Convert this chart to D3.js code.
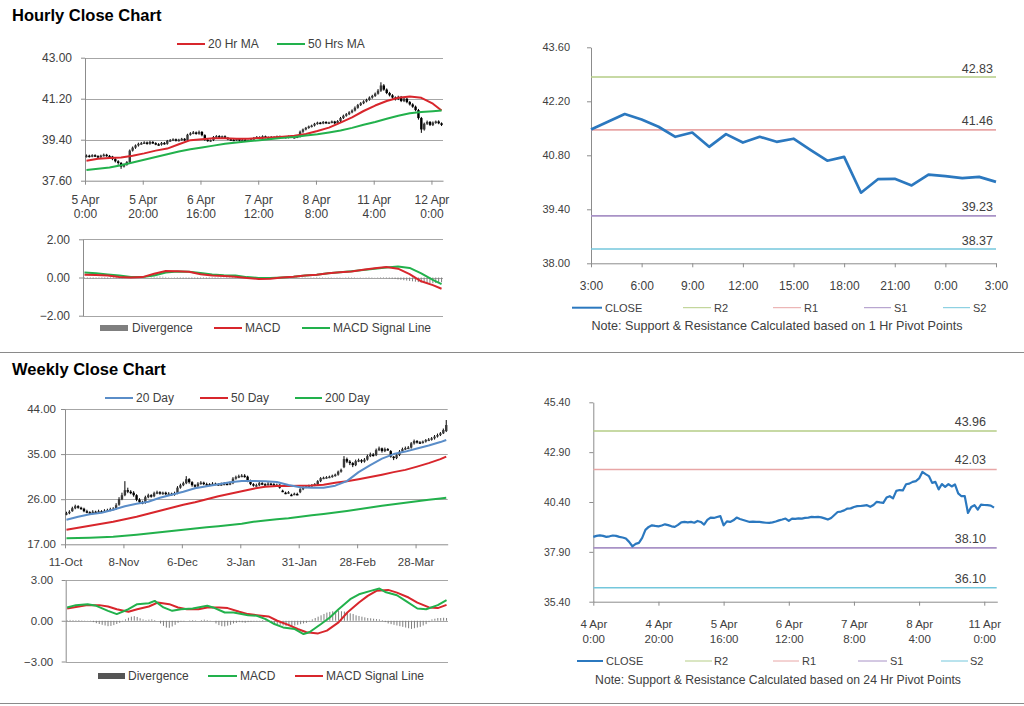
<!DOCTYPE html>
<html><head><meta charset="utf-8">
<script src="https://cdn.jsdelivr.net/npm/d3@7"></script>
<style>
body{margin:0;background:#fff;}
svg{display:block;}
</style></head><body>
<svg id="c" width="1024" height="706"></svg>
<script>
// ---------------- DATA ----------------
// Hourly close chart (top-left): hourly candles
const hTickIdx = [0,20,40,60,80,100,120];
const hTickLabels = ['5 Apr\n0:00','5 Apr\n20:00','6 Apr\n16:00','7 Apr\n12:00','8 Apr\n8:00','11 Apr\n4:00','12 Apr\n0:00'];
const hOpen = [38.66,38.70,38.66,38.72,38.68,38.64,38.70,38.74,38.69, 38.66,38.55,38.45,38.38,38.22,38.30, 38.42, 38.92,39.05,39.15,39.22, 39.25,39.28,39.22,39.30,39.25,39.20,39.18, 39.26,39.22,39.35,39.38,39.42,39.36,39.40, 39.44, 39.38,39.62,39.68,39.72,39.66,39.74, 39.60,39.40,39.35, 39.38,39.52,39.56,39.50,39.55, 39.48,39.42,39.40,39.38,39.43,39.36,39.40,39.34,39.38, 39.42,39.48,39.52,39.46,39.55,39.50, 39.48,39.52,39.48,39.55,39.50,39.53,39.49,39.55,39.52,39.50, 39.54,39.75,39.85,39.92,39.98, 40.02,40.10,40.15,40.12,40.18,40.14,40.16,40.20,40.12, 40.22,40.35,40.45,40.52,40.60, 40.68,40.80,40.92,41.00,41.08, 41.15,41.25,41.32,41.42, 41.55, 41.78,41.60,41.45, 41.35,41.25,41.18,41.28,41.10, 41.20,41.05,40.95, 40.85, 40.70,40.35, 39.85,40.10,40.18,40.05,40.15,40.20,40.12];
const hClose = [38.70,38.66,38.72,38.68,38.64,38.70,38.74,38.69,38.66, 38.55,38.45,38.38,38.22,38.30,38.42, 38.92, 39.05,39.15,39.22,39.25, 39.28,39.22,39.30,39.25,39.20,39.18,39.26, 39.22,39.35,39.38,39.42,39.36,39.40,39.44, 39.38, 39.62,39.68,39.72,39.66,39.74,39.60, 39.40,39.35,39.38, 39.52,39.56,39.50,39.55,39.48, 39.42,39.40,39.38,39.43,39.36,39.40,39.34,39.38,39.42, 39.48,39.52,39.46,39.55,39.50,39.48, 39.52,39.48,39.55,39.50,39.53,39.49,39.55,39.52,39.50,39.54, 39.75,39.85,39.92,39.98,40.02, 40.10,40.15,40.12,40.18,40.14,40.16,40.20,40.12,40.22, 40.35,40.45,40.52,40.60,40.68, 40.80,40.92,41.00,41.08,41.15, 41.25,41.32,41.42,41.55, 41.78, 41.60,41.45,41.35, 41.25,41.18,41.28,41.10,41.20, 41.05,40.95,40.85, 40.70, 40.35,39.85, 40.10,40.18,40.05,40.15,40.20,40.12,40.05];
const hHigh = [38.75,38.74,38.76,38.76,38.72,38.74,38.79,38.78,38.73, 38.69,38.60,38.50,38.42,38.35,38.46, 38.97, 39.10,39.19,39.27,39.30, 39.33,39.32,39.35,39.34,39.29,39.25,39.30, 39.30,39.39,39.43,39.46,39.45,39.44,39.48, 39.47, 39.66,39.73,39.78,39.76,39.80,39.78, 39.64,39.45,39.41, 39.56,39.60,39.60,39.58,39.59, 39.52,39.46,39.44,39.47,39.46,39.43,39.44,39.40,39.45, 39.52,39.56,39.55,39.59,39.58,39.54, 39.56,39.55,39.58,39.58,39.56,39.56,39.58,39.58,39.55,39.57, 39.80,39.89,39.96,40.02,40.06, 40.14,40.19,40.18,40.22,40.21,40.19,40.24,40.23,40.26, 40.40,40.50,40.57,40.65,40.73, 40.86,40.97,41.05,41.13,41.20, 41.30,41.37,41.47,41.62, 41.92, 41.84,41.65,41.50, 41.40,41.30,41.33,41.32,41.25, 41.25,41.10,41.00, 40.90, 40.75,40.40, 40.15,40.24,40.22,40.20,40.24,40.25,40.16];
const hLow = [38.62,38.62,38.63,38.64,38.60,38.60,38.66,38.65,38.62, 38.50,38.40,38.30,38.12,38.18,38.26, 38.38, 38.88,39.00,39.10,39.18, 39.21,39.18,39.18,39.21,39.16,39.14,39.14, 39.18,39.18,39.31,39.34,39.32,39.32,39.36, 39.34, 39.34,39.58,39.64,39.62,39.62,39.55, 39.35,39.31,39.31, 39.34,39.48,39.46,39.46,39.44, 39.38,39.36,39.34,39.35,39.32,39.33,39.30,39.30,39.34, 39.38,39.44,39.42,39.42,39.46,39.44, 39.44,39.45,39.45,39.46,39.47,39.46,39.46,39.48,39.46,39.47, 39.50,39.70,39.81,39.88,39.94, 39.98,40.06,40.08,40.08,40.10,40.10,40.12,40.08,40.08, 40.18,40.31,40.41,40.48,40.56, 40.64,40.76,40.88,40.96,41.04, 41.11,41.20,41.28,41.38, 41.50, 41.55,41.40,41.30, 41.20,41.12,41.14,41.05,41.05, 41.00,40.90,40.80, 40.65, 40.28,39.70, 39.80,40.05,40.00,40.00,40.10,40.08,40.00];
const hMaIdx = [0,4,8,12,16,20,24,28,32,36,40,44,48,52,56,60,64,68,72,76,80,84,88,92,96,100,104,108,112,116,120,123];
const hMa20 = [38.48,38.56,38.60,38.62,38.70,38.80,38.92,39.01,39.20,39.38,39.42,39.46,39.46,39.44,39.44,39.48,39.50,39.53,39.57,39.65,39.78,39.93,40.15,40.38,40.66,40.90,41.10,41.24,41.30,41.24,40.98,40.68];
const hMa50 = [38.07,38.12,38.18,38.28,38.40,38.52,38.64,38.76,38.88,38.98,39.06,39.14,39.22,39.28,39.33,39.38,39.43,39.48,39.52,39.58,39.64,39.72,39.80,39.92,40.06,40.18,40.32,40.45,40.56,40.62,40.65,40.68];
// Hourly MACD panel
const hMacd = [0.14,0.13,0.10,0.03,0.00,0.02,0.20,0.34,0.33,0.30,0.17,0.11,0.08,0.04,-0.02,-0.08,-0.06,0.00,0.04,0.10,0.14,0.22,0.28,0.32,0.40,0.48,0.55,0.46,0.18,-0.20,-0.40,-0.59];
const hSignal = [0.26,0.22,0.16,0.10,0.03,0.02,0.10,0.26,0.31,0.30,0.23,0.16,0.12,0.10,0.02,-0.02,-0.03,0.00,0.04,0.10,0.14,0.22,0.28,0.33,0.39,0.46,0.52,0.57,0.50,0.22,-0.12,-0.35];
const hDiverg = [-0.03,-0.04,-0.04,-0.05,-0.04,-0.03,-0.04,-0.05,-0.05,-0.04,-0.03,-0.04,-0.05,-0.04,-0.03,-0.02,-0.02,-0.01, 0.00,0.01,0.00,0.01,0.00, 0.02,0.03,0.04,0.05,0.04,0.03,0.02,0.01, -0.02,-0.03,-0.04,-0.05,-0.05,-0.06,-0.05,-0.05,-0.06,-0.05,-0.04,-0.05,-0.04,-0.03,-0.04,-0.03,-0.03,-0.02,-0.03,-0.02,-0.02,-0.03,-0.02,-0.02,-0.01,-0.02,-0.01,-0.01, 0.00,0.01,0.00,0.01,0.02,0.01,0.02,0.02,0.01,0.02,0.01,0.01,0.02,0.01, 0.02,0.01,0.02,0.02,0.01,0.02,0.02,0.03,0.02,0.02,0.01,0.02,0.02,0.01,0.02,0.02,0.01,0.02,0.03,0.02,0.02,0.01,0.02,0.01,0.02,0.03,0.02,0.01, -0.02,-0.03,-0.03,-0.04,-0.05,-0.06, -0.08,-0.10,-0.12,-0.14,-0.16,-0.18,-0.20,-0.22,-0.24,-0.26,-0.28,-0.29,-0.30,-0.30,-0.29,-0.27,-0.25];
// 1 Hr pivot chart (top-right)
const pHourLabels = ['3:00','6:00','9:00','12:00','15:00','18:00','21:00','0:00','3:00'];
const pHourClose = [41.47,41.67,41.87,41.73,41.54,41.28,41.39,41.02,41.35,41.13,41.28,41.15,41.23,40.94,40.66,40.76,39.83,40.18,40.19,40.02,40.30,40.26,40.21,40.24,40.11];
const pHourLevels = [42.83,41.46,39.23,38.37]; // R2,R1,S1,S2
// Weekly close chart (bottom-left): daily candles
const dTickIdx = [0,20,40,60,80,100,120];
const dTickLabels = ['11-Oct','8-Nov','6-Dec','3-Jan','31-Jan','28-Feb','28-Mar'];
const dOpen = [23.0,23.2,23.6,24.2,24.6,24.3,24.1,23.6,23.4,23.2,23.5,23.4,23.6,23.5,23.7,23.8,24.0,24.1,24.9,26.0,26.8,27.8,27.5,27.3,26.8,25.9,25.4,25.3,26.4,26.8,26.6,27.2,27.4,27.1,27.3,27.0,27.1,26.9,27.2,28.3,28.8,29.2,30.0,29.4,28.8,28.6,29.1,29.3,29.0,29.0,28.9,29.1,29.0,28.9,29.0,29.1,29.0,29.2,30.1,30.4,30.6,30.7,30.5,29.6,29.0,28.7,28.8,29.2,29.0,28.9,29.1,29.0,28.8,28.9,27.7,27.3,27.3,26.9,27.0,27.05,27.4,28.0,28.4,28.6,28.7,28.85,29.0,29.6,30.2,30.3,30.4,30.5,30.7,30.9,31.5,32.4,34.0,33.5,33.2,32.8,33.6,33.8,33.5,33.9,34.6,34.9,34.8,35.8,36.15,35.6,36.0,35.6,34.5,34.2,34.8,35.5,36.0,36.2,36.3,37.15,37.6,37.35,37.3,37.5,37.8,37.9,38.15,38.5,38.8,39.15,39.6];
const dClose = [23.2,23.5,24.2,24.6,24.3,24.1,23.6,23.4,23.2,23.5,23.4,23.6,23.5,23.7,23.8,24.0,24.1,24.8,26.0,26.8,27.8,27.5,27.3,26.8,25.9,25.4,25.3,26.4,26.8,26.6,27.2,27.4,27.1,27.3,27.0,27.1,26.9,27.2,28.3,28.8,29.2,30.0,29.4,28.8,28.6,29.1,29.3,29.0,29.0,28.9,29.1,29.0,28.9,29.0,29.1,29.0,29.2,30.1,30.4,30.6,30.7,30.5,29.6,29.0,28.7,28.8,29.2,29.0,28.9,29.1,29.0,28.8,28.9,28.3,27.65,27.2,27.4,26.85,27.1,27.0,28.0,28.4,28.6,28.7,28.85,29.0,29.6,30.2,30.3,30.4,30.5,30.7,30.9,31.5,31.85,34.0,33.5,33.2,32.8,33.6,33.8,33.5,33.9,34.6,34.9,34.8,35.8,36.15,35.6,36.0,35.9,34.5,34.2,34.8,35.5,36.0,36.2,36.3,37.15,37.6,37.35,37.3,37.5,37.8,37.9,38.15,38.5,38.8,39.15,39.8,40.8];
const dHigh = [23.5,23.8,24.5,24.9,24.8,24.5,24.3,23.9,23.6,23.8,23.7,23.9,23.8,24.0,24.1,24.3,24.4,25.2,26.4,27.3,29.6,28.3,27.8,27.6,27.0,26.2,25.7,26.7,27.1,27.0,27.5,27.7,27.6,27.5,27.5,27.4,27.3,27.5,28.6,29.1,29.5,30.6,30.2,29.6,29.0,29.4,29.6,29.5,29.3,29.2,29.4,29.3,29.2,29.3,29.4,29.3,29.5,30.4,30.7,30.9,31.0,31.0,30.7,29.9,29.2,29.1,29.5,29.4,29.2,29.4,29.3,29.2,29.1,29.0,27.9,27.5,27.6,27.1,27.3,27.3,28.2,28.6,28.8,28.9,29.0,29.2,29.8,30.4,30.5,30.6,30.7,30.9,31.1,31.7,32.1,34.6,34.3,33.8,33.4,33.9,34.1,34.0,34.2,34.9,35.3,35.2,36.1,36.5,36.3,36.3,36.2,35.8,34.6,35.0,35.8,36.3,36.5,36.6,37.4,37.9,37.8,37.6,37.7,38.0,38.2,38.4,38.8,39.1,39.4,40.1,41.8];
const dLow = [22.8,23.0,23.5,24.0,24.1,23.9,23.4,23.2,23.0,23.0,23.2,23.2,23.3,23.3,23.5,23.6,23.8,23.9,24.7,25.8,26.6,27.2,27.0,26.5,25.6,25.1,25.0,25.1,26.2,26.3,26.4,27.0,26.9,26.9,26.8,26.8,26.7,26.7,27.0,28.1,28.6,29.0,29.1,28.5,28.3,28.4,28.9,28.8,28.8,28.7,28.7,28.8,28.7,28.7,28.8,28.8,28.8,29.0,29.9,30.2,30.4,30.3,29.4,28.8,28.5,28.5,28.6,28.8,28.7,28.7,28.8,28.6,28.6,28.1,27.4,27.0,27.1,26.6,26.8,26.8,27.2,27.8,28.2,28.4,28.5,28.6,28.8,29.4,30.0,30.1,30.2,30.3,30.5,30.7,31.3,32.2,33.2,32.8,32.4,32.6,33.4,33.2,33.3,33.7,34.4,34.5,34.6,35.6,35.3,35.4,35.7,34.3,33.8,34.0,34.6,35.3,35.8,36.0,36.1,36.9,37.1,37.1,37.1,37.3,37.6,37.7,37.9,38.3,38.6,39.0,39.4];
const dMaIdx = [0,4,8,12,16,20,24,28,32,36,40,44,48,52,56,60,64,68,72,76,80,84,88,92,96,100,104,108,112,116,120,124,128,130];
const dMa20 = [21.9,22.5,23.0,23.3,23.9,24.6,25.1,25.5,26.3,26.9,27.5,28.2,28.6,29.0,29.4,29.65,29.65,29.6,29.45,28.85,28.4,28.3,28.3,28.7,29.6,31.4,32.8,34.1,35.0,35.5,36.1,36.7,37.4,37.8];
const dMa50 = [19.9,20.3,20.7,21.1,21.5,22.0,22.5,23.1,23.7,24.3,24.9,25.4,26.0,26.6,27.1,27.6,28.1,28.5,28.65,28.65,28.7,28.75,28.9,29.3,29.6,30.0,30.45,30.9,31.4,31.85,32.5,33.2,34.0,34.5];
const dMa200 = [18.2,18.25,18.3,18.4,18.5,18.7,18.9,19.15,19.4,19.65,19.9,20.15,20.4,20.6,20.85,21.1,21.5,21.75,22.0,22.2,22.5,22.8,23.05,23.35,23.65,24.0,24.35,24.7,25.0,25.3,25.6,25.9,26.15,26.3];
// Daily MACD panel
const dMacdIdx = [0,3,7,10,14,17,21,24,28,30,33,36,39,43,48,50,54,57,62,65,68,71,74,78,81,83,87,90,93,97,100,104,107,109,113,116,120,123,127,130];
const dMacd = [0.98,1.15,1.22,1.10,0.73,0.49,0.85,1.22,1.29,1.46,0.98,0.73,0.85,0.90,1.10,0.98,0.61,0.61,0.41,0.37,0.12,-0.24,-0.49,-0.61,-0.98,-0.85,-0.24,0.24,0.85,1.59,1.95,2.20,2.37,2.12,1.88,1.46,0.90,0.85,1.15,1.51];
const dSignalIdx = [0,4,7,11,14,17,21,24,28,31,35,38,41,45,48,52,55,59,62,65,69,72,76,79,82,86,89,93,96,100,103,106,110,113,117,120,124,127,130];
const dSignal = [0.90,1.05,1.15,1.15,1.05,0.85,0.66,0.85,1.05,1.34,1.22,0.98,0.85,0.85,0.98,0.98,0.93,0.66,0.49,0.41,0.32,0.00,-0.32,-0.61,-0.85,-0.93,-0.73,-0.12,0.61,1.34,1.83,2.20,2.27,2.07,1.71,1.34,0.98,0.93,1.17];
const dDiverg = [0.05,0.06,0.05,0.04,0.05,0.03,0.02,0.01,-0.02, -0.10,-0.18,-0.24,-0.30,-0.35,-0.40,-0.38,-0.32,-0.24,-0.15,-0.05, 0.10,0.22,0.30,0.34,0.28,0.18, 0.10,0.05,0.08,0.10,0.05,0.00, -0.20,-0.38,-0.50,-0.52,-0.42,-0.30,-0.15, -0.05,-0.04,0.00,0.03,0.05,0.03,0.00,0.05,0.08,0.05,0.02,0.00, -0.20,-0.32,-0.40,-0.42,-0.36,-0.30,-0.20, -0.15,-0.10,-0.12,-0.15,-0.10,-0.08,-0.05,-0.05,-0.03, 0.05,0.03,-0.05,-0.10, -0.20,-0.25,-0.30,-0.35,-0.38,-0.40,-0.38,-0.35,-0.30,-0.25,-0.20,-0.15,-0.05, 0.10,0.20,0.30, 0.40,0.50,0.60,0.65,0.70,0.72,0.75,0.70,0.68,0.60,0.55,0.50,0.40,0.35,0.30, 0.25,0.20,0.18,0.15,0.12,0.10,0.05, -0.10,-0.20,-0.25,-0.30,-0.35,-0.40,-0.45,-0.50,-0.55,-0.60,-0.55,-0.50,-0.45,-0.35,-0.25,-0.10, 0.10,0.15,0.20,0.20,0.22,0.20];
// 24 Hr pivot chart (bottom-right)
const pDayTickIdx = [0,20,40,60,80,100,120];
const pDayLabels = ['4 Apr\n0:00','4 Apr\n20:00','5 Apr\n16:00','6 Apr\n12:00','7 Apr\n8:00','8 Apr\n4:00','11 Apr\n0:00'];
const pDayClose = [38.65,38.70,38.73,38.70,38.65,38.68,38.72,38.70,38.65,38.62,38.57,38.40,38.18,38.30,38.35,38.60,39.00,39.15,39.23,39.20,39.18,39.22,39.28,39.24,39.18,39.15,39.25,39.38,39.40,39.38,39.40,39.36,39.45,39.40,39.27,39.50,39.62,39.60,39.65,39.69,39.23,39.43,39.40,39.48,39.62,39.55,39.50,39.45,39.40,39.42,39.40,39.40,39.38,39.36,39.35,39.38,39.42,39.48,39.52,39.57,39.45,39.57,39.55,39.58,39.57,39.60,39.62,39.65,39.64,39.65,39.63,39.58,39.52,39.60,39.75,39.90,39.92,39.98,40.07,40.08,40.15,40.19,40.20,40.22,40.24,40.16,40.25,40.41,40.38,40.36,40.62,40.69,40.58,40.96,41.00,40.98,41.29,41.32,41.41,41.45,41.58,41.91,41.80,41.70,41.36,41.41,41.03,41.30,41.16,41.30,41.18,41.28,40.83,40.69,40.70,39.85,40.15,40.24,40.02,40.27,40.25,40.24,40.22,40.12];
const pDayLevels = [43.96,42.03,38.10,36.10]; // R2,R1,S1,S2

// ---------------- DRAWING ----------------
const FONT = '"Liberation Sans", Arial, Helvetica, sans-serif';
const C = {axis:'#8c8c8c', grid:'#a6a6a6', text:'#404040', red:'#d8262c', green:'#22b14c',
  blue:'#5a8dc8', close:'#2b78bf', lv:['#b5cd86','#e8a6a6','#a892c6','#74c7dc'], div:'#7f7f7f'};
const svg = d3.select('#c');

function txt(x,y,s,opt={}) {
  return svg.append('text').attr('x',x).attr('y',y).text(s)
    .attr('font-family',FONT).attr('font-size',opt.fs||11).attr('fill',opt.fill||C.text)
    .attr('text-anchor',opt.anchor||'start').attr('font-weight',opt.fw||'normal');
}
function hline(x1,x2,y,color,w) {
  svg.append('line').attr('x1',x1).attr('x2',x2).attr('y1',y).attr('y2',y)
    .attr('stroke',color).attr('stroke-width',w||1);
}
function leftAxis(x,y,ticks,fs,pad) {
  const g = svg.append('g').attr('transform',`translate(${x},0)`)
    .call(d3.axisLeft(y).tickValues(ticks).tickFormat(d3.format('.2f')).tickSize(4).tickSizeOuter(0).tickPadding(pad));
  g.attr('font-family',FONT).attr('font-size',fs);
  g.select('.domain').attr('stroke',C.axis);
  g.selectAll('.tick line').attr('stroke',C.axis);
  g.selectAll('.tick text').attr('fill',C.text);
}
function bottomAxis(x,y0,ticks,labels,fs,dy,lh) {
  const g = svg.append('g').attr('transform',`translate(0,${y0})`)
    .call(d3.axisBottom(x).tickValues(ticks).tickFormat(()=>'').tickSize(4).tickSizeOuter(0));
  g.select('.domain').attr('stroke',C.axis);
  g.selectAll('.tick line').attr('stroke',C.axis);
  g.selectAll('.tick text').remove();
  g.selectAll('.tick').each(function(d,i){
    const t = d3.select(this).append('text').attr('fill',C.text).attr('font-family',FONT)
      .attr('font-size',fs).attr('text-anchor','middle');
    labels[i].split('\n').forEach((s,j)=>t.append('tspan').attr('x',0).attr('y',dy+j*lh).text(s));
  });
}
function legendLine(x1,x2,y,color,w,label,fs,tx) {
  hline(x1,x2,y,color,w);
  txt(tx||x2+3,y+4,label,{fs:fs});
}
function candles(x,y,o,h,l,c,bw) {
  const g = svg.append('g');
  c.forEach((cv,i)=>{
    const cx = x(i+0.5);
    g.append('line').attr('x1',cx).attr('x2',cx).attr('y1',y(h[i])).attr('y2',y(l[i]))
      .attr('stroke','#000').attr('stroke-width',1);
    const top = y(Math.max(o[i],cv)), bot = y(Math.min(o[i],cv));
    g.append('rect').attr('x',cx-bw/2).attr('width',bw).attr('y',top).attr('height',Math.max(1.5,bot-top))
      .attr('fill',cv > o[i] ? '#3a3a3a' : '#000');
  });
}
function path(idx,vals,x,y,color,w) {
  const line = d3.line().x(d=>x(d[0])).y(d=>y(d[1]));
  svg.append('path').datum(idx.map((k,i)=>[k,vals[i]])).attr('d',line)
    .attr('fill','none').attr('stroke',color).attr('stroke-width',w).attr('stroke-linejoin','round');
}

// Titles and separators
txt(12,21,'Hourly Close Chart',{fs:16.5,fw:'bold',fill:'#000'});
txt(12,375,'Weekly Close Chart',{fs:16.5,fw:'bold',fill:'#000'});
hline(0,1024,352.5,'#8a8a8a',1);
hline(0,1024,703.5,'#8a8a8a',1);

// ---- Panel 1: hourly candles ----
{
  const x = d3.scaleLinear().domain([0,124]).range([85,443]);
  const y = d3.scaleLinear().domain([37.6,43]).range([180.7,57.7]);
  const ticks = [43.0,41.2,39.4,37.6];
  ticks.slice(0,3).forEach(t=>hline(85,443,Math.round(y(t))+0.5,C.grid,1));
  leftAxis(85,y,ticks,12,9);
  bottomAxis(x,180.7,hTickIdx,hTickLabels,12,23.5,14);
  candles(x,y,hOpen,hHigh,hLow,hClose,2.4);
  path(hMaIdx.map(k=>k+0.5),hMa20,x,y,C.red,2);
  path(hMaIdx.map(k=>k+0.5),hMa50,x,y,C.green,2);
  legendLine(177,205,44,C.red,2,'20 Hr MA',12);
  legendLine(277,305,44,C.green,2,'50 Hrs MA',12);
}
// ---- Panel 2: hourly MACD ----
{
  const x = d3.scaleLinear().domain([0,124]).range([83,443]);
  const y = d3.scaleLinear().domain([-2,2]).range([315.7,239.3]);
  [2,0,-2].forEach(t=>hline(83,443,Math.round(y(t))+0.5,C.grid,1));
  leftAxis(83,y,[2,0,-2],12,9);
  const g = svg.append('g');
  hDiverg.forEach((d,i)=>g.append('line').attr('x1',x(i+0.5)).attr('x2',x(i+0.5))
    .attr('y1',y(0)).attr('y2',y(d)).attr('stroke',C.div).attr('stroke-width',1));
  path(hMaIdx.map(k=>k+0.5),hSignal,x,y,C.green,2);
  path(hMaIdx.map(k=>k+0.5),hMacd,x,y,C.red,2);
  svg.append('rect').attr('x',100).attr('y',325).attr('width',28).attr('height',6).attr('fill',C.div);
  txt(132,332,'Divergence',{fs:12});
  legendLine(214,242,328,C.red,2,'MACD',12,245);
  legendLine(302,330,328,C.green,2,'MACD Signal Line',12,333);
}
// ---- Panel 3: 1 Hr pivot ----
{
  const x = d3.scaleLinear().domain([0,24]).range([591,996]);
  const y = d3.scaleLinear().domain([38,43.6]).range([263.3,47.3]);
  leftAxis(591,y,[43.6,42.2,40.8,39.4,38.0],11,17);
  bottomAxis(x,263.3,[0,3,6,9,12,15,18,21,24],pHourLabels,12,27,14);
  pHourLevels.forEach((v,i)=>{
    hline(591,996,y(v),C.lv[i],1.6);
    txt(993,y(v)-4.5,v.toFixed(2),{fs:12.5,anchor:'end'});
  });
  path(d3.range(pHourClose.length),pHourClose,x,y,C.close,2.7);
  legendLine(572,602,307.7,C.close,2,'CLOSE',11,605);
  legendLine(683,711,307.7,C.lv[0],1,'R2',11,714);
  legendLine(773,801,307.7,C.lv[1],1,'R1',11,804);
  legendLine(864,891,307.7,C.lv[2],1,'S1',11,894);
  legendLine(943,970,307.7,C.lv[3],1,'S2',11,973);
  txt(777,330,'Note: Support & Resistance Calculated based on 1 Hr Pivot Points',{fs:12.6,anchor:'middle'});
}
// ---- Panel 4: daily candles ----
{
  const x = d3.scaleLinear().domain([0,131]).range([65,447.7]);
  const y = d3.scaleLinear().domain([17,44]).range([544.3,409]);
  const ticks = [44,35,26,17];
  ticks.slice(0,3).forEach(t=>hline(65,447.7,Math.round(y(t))+0.5,C.grid,1));
  leftAxis(65,y,ticks,11.5,5);
  bottomAxis(x,544.3,dTickIdx,dTickLabels,11.5,21.5,14);
  candles(x,y,dOpen,dHigh,dLow,dClose,2.4);
  const mx = dMaIdx.map(k=>k+0.5);
  path(mx,dMa200,x,y,C.green,2);
  path(mx,dMa50,x,y,C.red,2);
  path(mx,dMa20,x,y,C.blue,2);
  legendLine(105,133,398,C.blue,2,'20 Day',12,136);
  legendLine(200,228,398,C.red,2,'50 Day',12,231);
  legendLine(295,322,398,C.green,2,'200 Day',12,325);
}
// ---- Panel 5: daily MACD ----
{
  const x = d3.scaleLinear().domain([0,131]).range([65.7,448]);
  const y = d3.scaleLinear().domain([-3,3]).range([661.5,580]);
  [3,0,-3].forEach(t=>hline(65.7,448,Math.round(y(t))+0.5,C.grid,1));
  leftAxis(65.7,y,[3,0,-3],11.5,8.5);
  const g = svg.append('g');
  dDiverg.forEach((d,i)=>g.append('line').attr('x1',x(i+0.5)).attr('x2',x(i+0.5))
    .attr('y1',y(0)).attr('y2',y(d)).attr('stroke',C.div).attr('stroke-width',1));
  path(dSignalIdx.map(k=>k+0.5),dSignal,x,y,C.red,2);
  path(dMacdIdx.map(k=>k+0.5),dMacd,x,y,C.green,2);
  svg.append('rect').attr('x',98).attr('y',673).attr('width',27).attr('height',6).attr('fill','#555');
  txt(128,680,'Divergence',{fs:12});
  legendLine(208,237,676,C.green,2,'MACD',12,240);
  legendLine(295,323,676,C.red,2,'MACD Signal Line',12,326);
}
// ---- Panel 6: 24 Hr pivot ----
{
  const x = d3.scaleLinear().domain([0,124]).range([593.3,997.3]);
  const y = d3.scaleLinear().domain([35.4,45.4]).range([601.7,402.3]);
  leftAxis(593.3,y,[45.4,42.9,40.4,37.9,35.4],10.5,19);
  bottomAxis(x,601.7,pDayTickIdx,pDayLabels,11.5,26,15);
  pDayLevels.forEach((v,i)=>{
    hline(593.3,996.7,y(v),C.lv[i],1.6);
    txt(986,y(v)-5,v.toFixed(2),{fs:12.5,anchor:'end'});
  });
  path(d3.range(pDayClose.length),pDayClose,x,y,C.close,2.2);
  legendLine(577,603,661,C.close,2,'CLOSE',11,606);
  legendLine(685,712,661,C.lv[0],1,'R2',11,714);
  legendLine(773,799,661,C.lv[1],1,'R1',11,802);
  legendLine(858,887,661,C.lv[2],1,'S1',11,890);
  legendLine(941,968,661,C.lv[3],1,'S2',11,970);
  txt(778,684,'Note: Support & Resistance Calculated based on 24 Hr Pivot Points',{fs:12.2,anchor:'middle'});
}
</script>
</body></html>
